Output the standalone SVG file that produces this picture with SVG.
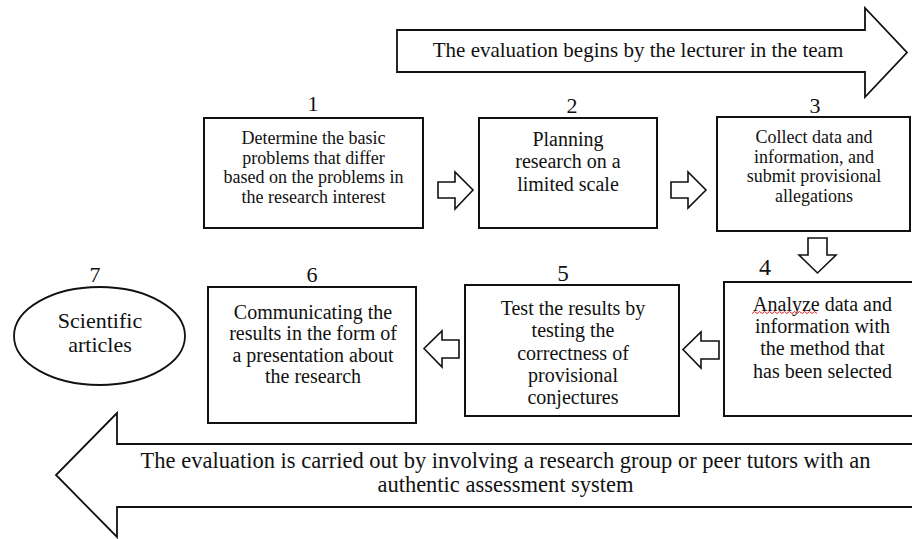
<svg xmlns="http://www.w3.org/2000/svg" width="912" height="539" viewBox="0 0 912 539">
<style>
  text { font-family: "Liberation Serif", "Times New Roman", serif; fill: #111; text-anchor: middle; }
  .box { fill: #fff; stroke: #111; stroke-width: 2; }
  .conn { fill: #fff; stroke: #111; stroke-width: 1.6; stroke-linejoin: miter; }
  .big { fill: #fff; stroke: #111; stroke-width: 1.8; stroke-linejoin: miter; }
  .num { font-size: 22px; }
  .t18 { font-size: 18px; }
  .t20 { font-size: 20px; }
</style>
<rect width="912" height="539" fill="#fff"/>

<g id="banner-top">
  <path class="big" d="M397,30 H865 V8 L907,52.5 L865,97 V72 H397 Z"/>
  <text x="638" y="57" style="font-size:21px">The evaluation begins by the lecturer in the team</text>
</g>

<g id="banner-bottom">
  <path class="big" d="M915,444 H117 V413 L56,475 L117,537 V507 H915"/>
  <text x="505.5" y="468" style="font-size:22.5px">The evaluation is carried out by involving a research group or peer tutors with an</text>
  <text x="505.5" y="492" style="font-size:22.5px">authentic assessment system</text>
</g>

<g id="node1">
  <text class="num" x="313" y="111">1</text>
  <rect class="box" x="204" y="118" width="219" height="110"/>
  <text class="t18" x="313.5" y="144">Determine the basic</text>
  <text class="t18" x="313.5" y="164">problems that differ</text>
  <text class="t18" x="313.5" y="183">based on the problems in</text>
  <text class="t18" x="313.5" y="203">the research interest</text>
</g>

<g id="node2">
  <text class="num" x="572" y="113">2</text>
  <rect class="box" x="479" y="118" width="178" height="110"/>
  <text class="t20" x="568" y="146">Planning</text>
  <text class="t20" x="568" y="168">research on a</text>
  <text class="t20" x="568" y="191">limited scale</text>
</g>

<g id="node3">
  <text class="num" x="815" y="113">3</text>
  <rect class="box" x="717" y="117" width="193" height="114"/>
  <text class="t18" x="814" y="143">Collect data and</text>
  <text class="t18" x="814" y="163">information, and</text>
  <text class="t18" x="814" y="182">submit provisional</text>
  <text class="t18" x="814" y="202">allegations</text>
</g>

<g id="node4">
  <text class="num" x="765" y="275" style="font-size:24px">4</text>
  <rect class="box" x="724" y="282" width="192" height="134"/>
  <text class="t20" x="822.5" y="311">Analyze data and</text>
  <path d="M752,313.5 l2.5,-2 l2.5,2 l2.5,-2 l2.5,2 l2.5,-2 l2.5,2 l2.5,-2 l2.5,2 l2.5,-2 l2.5,2 l2.5,-2 l2.5,2 l2.5,-2 l2.5,2 l2.5,-2 l2.5,2 l2.5,-2 l2.5,2 l2.5,-2 l2.5,2 l2.5,-2 l2.5,2 l2.5,-2 l2.5,2 l2.5,-2 l2.5,2" fill="none" stroke="#e02020" stroke-width="1"/>
  <text class="t20" x="822.5" y="333">information with</text>
  <text class="t20" x="822.5" y="355">the method that</text>
  <text class="t20" x="822.5" y="378">has been selected</text>
</g>

<g id="node5">
  <text class="num" x="563" y="281" style="font-size:23px">5</text>
  <rect class="box" x="465" y="285" width="214" height="131"/>
  <text class="t20" x="573" y="315">Test the results by</text>
  <text class="t20" x="573" y="337">testing the</text>
  <text class="t20" x="573" y="360">correctness of</text>
  <text class="t20" x="573" y="382">provisional</text>
  <text class="t20" x="573" y="404">conjectures</text>
</g>

<g id="node6">
  <text class="num" x="312" y="282">6</text>
  <rect class="box" x="208" y="287" width="208" height="136"/>
  <text class="t20" x="313" y="319">Communicating the</text>
  <text class="t20" x="313" y="340">results in the form of</text>
  <text class="t20" x="313" y="362">a presentation about</text>
  <text class="t20" x="313" y="383">the research</text>
</g>

<g id="node7">
  <text class="num" x="95" y="282">7</text>
  <ellipse class="box" cx="99.5" cy="336" rx="85.5" ry="49" style="stroke-width:1.8"/>
  <text x="100" y="328" style="font-size:22px">Scientific</text>
  <text x="100" y="352" style="font-size:22px">articles</text>
</g>

<g id="connectors">
  <path class="conn" d="M438,182 H455 V172 L473,190 L455,209 V198 H438 Z"/>
  <path class="conn" d="M671,182 H688 V172 L706,190 L688,208 V198 H671 Z"/>
  <path class="conn" d="M808,238 V255 H799 L817.5,273 L836,255 H827 V238 Z"/>
  <path class="conn" d="M719,341 H701 V332 L683,349.5 L701,368 V359 H719 Z"/>
  <path class="conn" d="M459,340 H442 V331 L424,348.5 L442,367 V358 H459 Z"/>
</g>
</svg>
